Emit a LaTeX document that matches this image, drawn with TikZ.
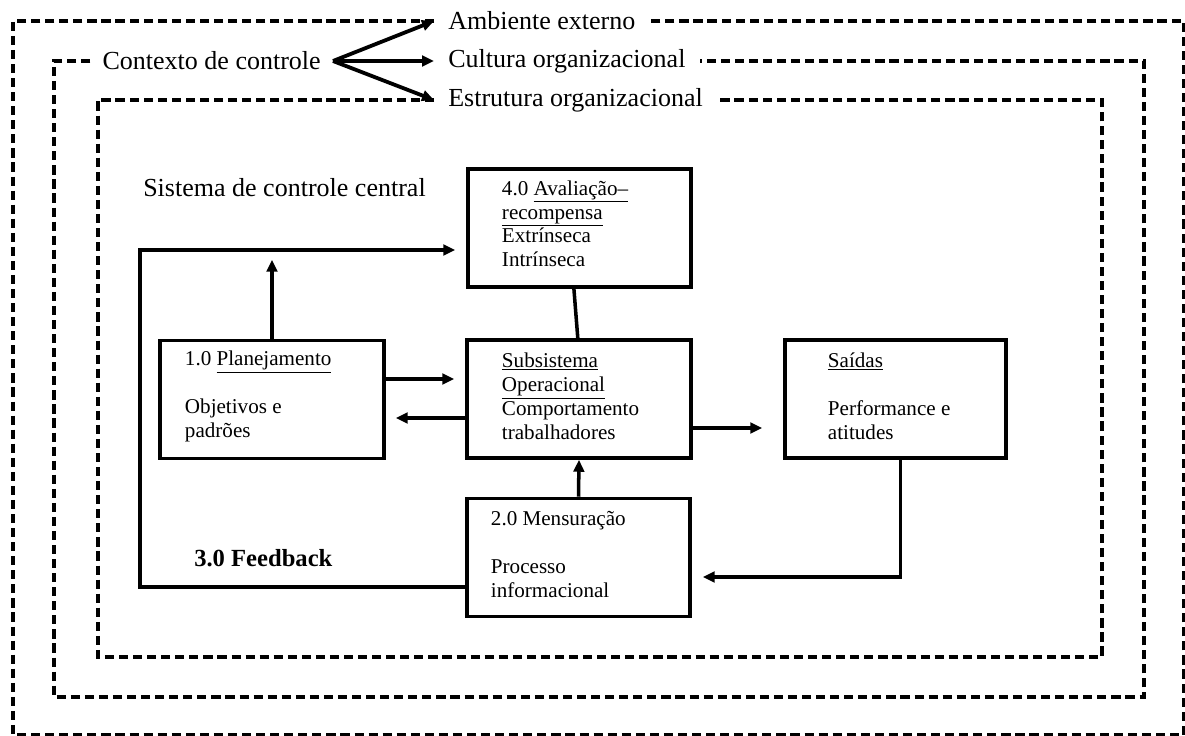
\documentclass[tikz,border=0pt]{standalone}
\usepackage{fontspec}
\setmainfont{Liberation Serif}
\usetikzlibrary{arrows.meta,calc,positioning}

\begin{document}
\begin{tikzpicture}[x=0.025cm,y=-0.025cm,
  lbl/.style={fill=white,inner xsep=0.35cm,inner ysep=2pt,font=\fontsize{18.5}{20}\selectfont},
  dashframe/.style={line width=2.4pt,dash pattern=on 6.5pt off 3.5pt},
  conn/.style={line width=2.5pt},
  arr/.style={-{Triangle[length=8.5pt,width=7.5pt]}},
  blk/.style={draw,line width=2.5pt,minimum height=2.95cm,align=flush left,font=\fontsize{15}{17}\selectfont}]
  \useasboundingbox (0,0) rectangle (1185,736);

  % context labels
  \node[lbl,anchor=west] (amb) at (434,21) {Ambiente externo};
  \node[lbl,anchor=west] (cult) at (434,61) {Cultura organizacional};
  \node[lbl,anchor=west] (estr) at (434,100) {Estrutura organizacional};
  \node[lbl,anchor=east,inner xsep=0.3cm] (ctx) at (333,61) {Contexto de controle};

  % dashed frames
  \draw[dashframe] (amb.west) -- (13,21) -- (13,735) -- (1184,735) -- (1184,21) -- (amb.east);
  \draw[dashframe] (ctx.west) -- (54,61) -- (54,697) -- (1144,697) -- (1144,61) -- (cult.east);
  \draw[dashframe] (estr.west) -- (98,100) -- (98,657) -- (1102,657) -- (1102,100) -- (estr.east);

  \foreach \t in {amb,cult,estr}
    \draw[line width=2.7pt,arr] (ctx.east) -- (\t.west);

  % titles
  \node[anchor=west,inner sep=0pt,font=\fontsize{18.5}{20}\selectfont] (sis) at (143,188) {Sistema de controle central};
  \node[anchor=west,inner sep=0pt,font=\fontsize{17.5}{20}\selectfont\bfseries] (fb) at (194,558) {3.0 Feedback};

  % blocks
  \node[blk,text width=3.875cm,inner xsep=0.85cm] (aval) at (579.5,228)
    {4.0 \underline{Avaliação–}\\\underline{recompensa}\\Extrínseca\\Intrínseca\vspace{6pt}};
  \node[blk,text width=4.35cm,inner xsep=0.625cm] (plan) at (272,399.5)
    {1.0 \underline{Planejamento}\\\mbox{}\\Objetivos e\\padrões\vspace{4pt}};
  \node[blk,text width=3.85cm,inner xsep=0.875cm] (sub) at (579,399)
    {\underline{Subsistema}\\\underline{Operacional}\\Comportamento\\trabalhadores\vspace{4pt}};
  \node[blk,text width=3.375cm,inner xsep=1.075cm] (said) at (895.5,399)
    {\underline{Saídas}\\\mbox{}\\Performance e\\atitudes\vspace{4pt}};
  \node[blk,text width=4.375cm,inner xsep=0.6cm] (mens) at (578.5,557.5)
    {2.0 Mensuração\\\mbox{}\\Processo\\informacional\vspace{4pt}};

  % connectors
  \coordinate (plantip) at ($(plan.north)+(0,-79)$);
  \coordinate (fbc) at (140,250);
  \draw[conn] ([xshift=-0.14cm]aval.south) -- ([xshift=-0.03cm]sub.north);
  \draw[conn,arr] (plan.north) -- (plantip);
  \draw[conn,arr,shorten >=0.275cm] (plan.east |- 0,379) -- (sub.west |- 0,379);
  \draw[conn,arr,shorten >=0.25cm] (sub.west |- 0,418) -- (plan.east |- 0,418);
  \draw[conn,arr,shorten >=0.525cm] (sub.east |- 0,428) -- (said.west |- 0,428);
  \draw[conn,arr] (mens.north) -- (sub.south);
  \draw[conn,arr,shorten >=0.275cm] ([xshift=0.125cm]said.south) |- (mens.east |- 0,577);
  \draw[conn,arr,shorten >=0.275cm] (mens.west |- 0,587) -| (fbc) -- (aval.west |- fbc);
\end{tikzpicture}
\end{document}
